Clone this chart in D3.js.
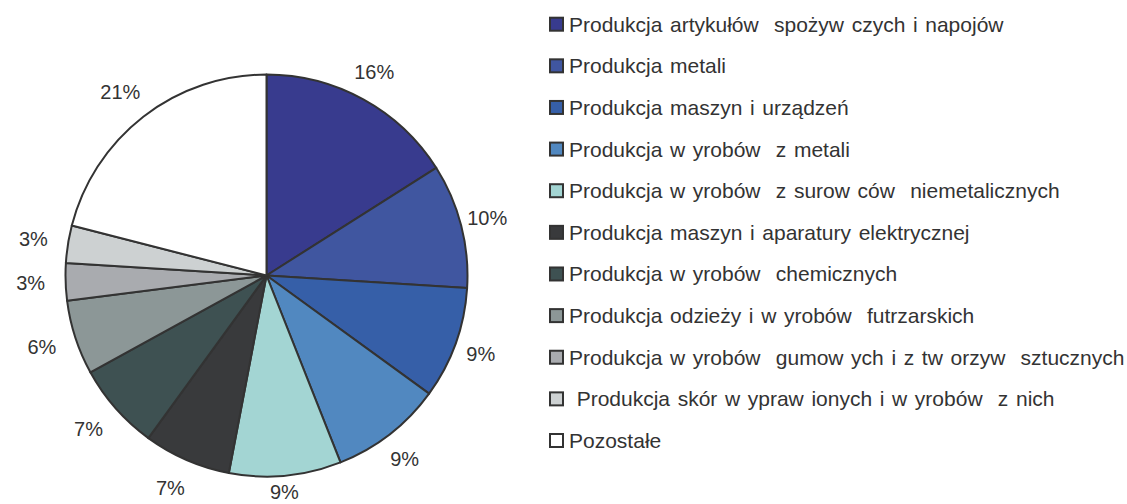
<!DOCTYPE html>
<html>
<head>
<meta charset="utf-8">
<script src="https://cdn.jsdelivr.net/npm/d3@7"></script>
<style>
  html, body { margin: 0; padding: 0; background: #fff; }
  svg text { font-family: "Liberation Sans", Arial, sans-serif; fill: #333; white-space: pre; }
</style>
</head>
<body>
<svg id="chart" width="1127" height="504"></svg>
<script>
// Industry sectors and their shares (%)
const categories = [
  "Produkcja artykułów  spożyw czych i napojów",
  "Produkcja metali",
  "Produkcja maszyn i urządzeń",
  "Produkcja w yrobów  z metali",
  "Produkcja w yrobów  z surow ców  niemetalicznych",
  "Produkcja maszyn i aparatury elektrycznej",
  "Produkcja w yrobów  chemicznych",
  "Produkcja odzieży i w yrobów  futrzarskich",
  "Produkcja w yrobów  gumow ych i z tw orzyw  sztucznych",
  " Produkcja skór w ypraw ionych i w yrobów  z nich",
  "Pozostałe"
];
const shares = [16, 10, 9, 9, 9, 7, 7, 6, 3, 3, 21];
const colors = [
  "#383b8e", "#4056a0", "#365fa8", "#5188c0", "#a3d5d3",
  "#393a3c", "#3e5152", "#8c9797", "#a9abaf", "#cdd1d2", "#ffffff"
];

const W = 1127, H = 504;
const svg = d3.select("#chart");
const cx = 266.5, cy = 275.5, radius = 201, labelRadius = 232;

const data = categories.map((c, i) => ({ name: c, value: shares[i], color: colors[i] }));

const pie = d3.pie().sort(null).value(d => d.value);
const arcs = pie(data);
const arc = d3.arc().innerRadius(0).outerRadius(radius);
const labelArc = d3.arc().innerRadius(labelRadius).outerRadius(labelRadius);

const g = svg.append("g").attr("transform", `translate(${cx},${cy})`);

g.selectAll("path.slice")
  .data(arcs)
  .join("path")
  .attr("class", "slice")
  .attr("d", arc)
  .attr("fill", d => d.data.color)
  .attr("stroke", "#333")
  .attr("stroke-width", 2)
  .attr("stroke-linejoin", "round");

// Percentage labels outside the slices, kept inside the drawing area
g.selectAll("text.pct")
  .data(arcs)
  .join("text")
  .attr("class", "pct")
  .attr("transform", d => {
    const [x, y] = labelArc.centroid(d);
    const yy = Math.min(y, H - cy - 12);
    return `translate(${x - 4},${yy})`;
  })
  .attr("text-anchor", "middle")
  .attr("dominant-baseline", "central")
  .style("font-size", "20px")
  .text(d => d.data.value + "%");

// Legend
const legendY = d3.scalePoint()
  .domain(d3.range(categories.length))
  .range([24.2, 440.5]);

const legend = svg.append("g");
const item = legend.selectAll("g.item")
  .data(data)
  .join("g")
  .attr("class", "item")
  .attr("transform", (d, i) => `translate(549,${legendY(i)})`);

item.append("rect")
  .attr("x", 1)
  .attr("y", -6.5)
  .attr("width", 13)
  .attr("height", 13)
  .attr("fill", d => d.color)
  .attr("stroke", "#333")
  .attr("stroke-width", 2);

item.append("text")
  .attr("x", 20)
  .attr("y", 0)
  .attr("dominant-baseline", "central")
  .style("font-size", "21px")
  .style("word-spacing", "1.8px")
  .text(d => d.name);
</script>
</body>
</html>
